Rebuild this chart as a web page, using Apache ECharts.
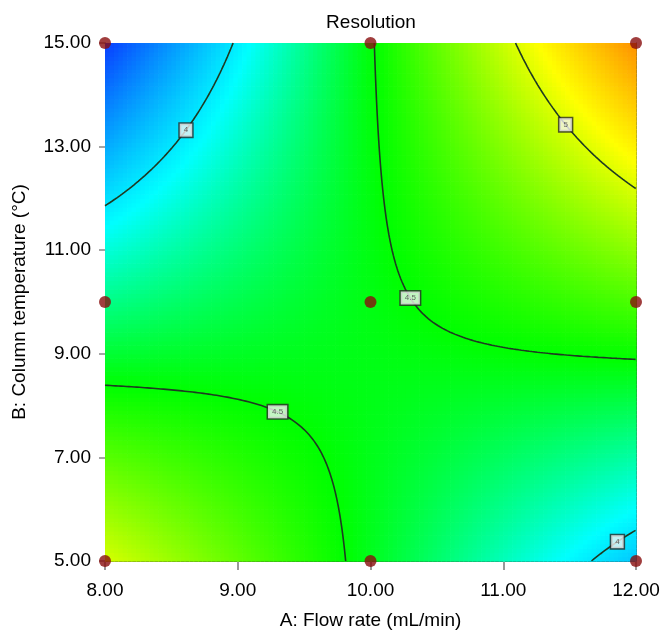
<!DOCTYPE html>
<html><head><meta charset="utf-8">
<script src="https://cdn.jsdelivr.net/npm/echarts@6/dist/echarts.min.js"></script>
<style>html,body{margin:0;padding:0;background:#fff}#c{width:661px;height:633px}</style>
</head><body><div id="c"></div>
<script>
// ---- data ----
const chartTitle = 'Resolution';
const xName = 'A: Flow rate (mL/min)';
const yName = 'B: Column temperature (°C)';
const xTicks = [8, 9, 10, 11, 12];
const yTicks = [5, 7, 9, 11, 13, 15];
// design points (A, B)
const designA = [8, 10, 12, 8, 10, 12, 8, 10, 12];
const designB = [15, 15, 15, 10, 10, 10, 5, 5, 5];
// response surface estimated from the colours / contours, coded units: [const, A, B, AB]
const coef = [4.468, 0.200, 0.0185, 0.74];
const contourLevels = [4, 4.5, 5];
// contour label anchors: [level, A]
const labelAt = [[4, 8.61], [4, 11.86], [4.5, 10.30], [4.5, 9.30], [5, 11.47]];
const colorStops = ['#0a2cff', '#00ffff', '#00ff00', '#ffff00', '#ff6a00'];
const colorValues = [3.5, 4.06, 4.5, 5.08, 5.55];

// ---- build ----
const [c0, ca, cb, cab] = coef;
const toX = A => (A - 10) / 2, toY = B => (B - 10) / 5;
const fromX = x => 10 + 2 * x, fromY = y => 10 + 5 * y;
const resp = (A, B) => { const x = toX(A), y = toY(B); return c0 + ca * x + cb * y + cab * x * y; };

// piecewise colour position so that stops sit at colorValues
function colorPos(v) {
  const n = colorValues.length - 1;
  if (v <= colorValues[0]) return 0;
  for (let i = 0; i < n; i++) {
    if (v <= colorValues[i + 1]) return (i + (v - colorValues[i]) / (colorValues[i + 1] - colorValues[i])) / n;
  }
  return 1;
}

const N = 120;
const dA = 4 / N, dB = 10 / N;
const heat = [];
for (let i = 0; i < N; i++) for (let j = 0; j < N; j++) {
  const A = 8 + (i + 0.5) * dA, B = 5 + (j + 0.5) * dB;
  const v = resp(A, B);
  heat.push([A, B, v, colorPos(v)]);
}

function contour(L) {
  const x0 = -cb / cab;
  const pts = [];
  const M = 1200;
  for (let k = 0; k <= M; k++) {
    const x = -1 + 2 * k / M, den = cb + cab * x;
    if (Math.abs(den) < 1e-9) continue;
    const y = (L - c0 - ca * x) / den;
    if (Math.abs(y) <= 1) pts.push([x, y]);
  }
  for (let k = 0; k <= M; k++) {
    const y = -1 + 2 * k / M, den = ca + cab * y;
    if (Math.abs(den) < 1e-9) continue;
    const x = (L - c0 - cb * y) / den;
    if (Math.abs(x) <= 1) pts.push([x, y]);
  }
  const left = pts.filter(p => p[0] < x0).sort((a, b) => a[0] - b[0]);
  const right = pts.filter(p => p[0] >= x0).sort((a, b) => a[0] - b[0]);
  return [left, right].filter(b => b.length > 1).map(b => b.map(p => [fromX(p[0]), fromY(p[1])]));
}

const series = [];
series.push({
  type: 'custom', coordinateSystem: 'cartesian2d', data: heat, progressive: 0,
  encode: { x: 0, y: 1 }, silent: true, z: 1,
  renderItem(params, api) {
    const A = api.value(0), B = api.value(1);
    const p0 = api.coord([A - dA / 2, B + dB / 2]);
    const p1 = api.coord([A + dA / 2, B - dB / 2]);
    return { type: 'rect', shape: { x: p0[0], y: p0[1], width: p1[0] - p0[0] + 0.7, height: p1[1] - p0[1] + 0.7 },
      style: { fill: api.visual('color') } };
  }
});
contourLevels.forEach(L => {
  contour(L).forEach(branch => {
    series.push({ type: 'line', data: branch, showSymbol: false, silent: true, z: 3, animation: false,
      lineStyle: { color: '#1e3a22', width: 1.6 } });
  });
});
series.push({
  type: 'scatter', z: 5, silent: true, symbolSize: 1, itemStyle: { color: 'transparent' },
  data: labelAt.map(([L, A]) => {
    const x = toX(A); const y = (L - c0 - ca * x) / (cb + cab * x);
    return { value: [A, fromY(y)], name: String(L) };
  }),
  label: { show: true, position: 'inside', formatter: p => p.name, fontSize: 8, color: '#444',
    backgroundColor: '#f2f2f2', borderColor: '#2a2a2a', borderWidth: 1.5, padding: [3, 4, 2, 4],
    fontFamily: 'Liberation Sans, Arial, sans-serif' }
});
series.push({
  type: 'scatter', z: 6, silent: true, clip: false, symbolSize: 12,
  itemStyle: { color: '#880e0e' },
  data: designA.map((a, i) => [a, designB[i]])
});

const font = 'Liberation Sans, Arial, sans-serif';
const option = {
  animation: false,
  textStyle: { fontFamily: font },
  grid: { left: 105, right: 25, top: 43, bottom: 72, containLabel: false, outerBoundsMode: 'none' },
  graphic: [{ type: 'text', x: 371, y: 13, style: { text: chartTitle, fontSize: 19, fill: '#000', fontFamily: font, align: 'center', textAlign: 'center' } }],
  visualMap: { show: false, seriesIndex: 0, dimension: 3, min: 0, max: 1, inRange: { color: colorStops } },
  xAxis: [{
    type: 'value', min: xTicks[0], max: xTicks[xTicks.length - 1], interval: 1,
    name: xName, nameLocation: 'middle', nameGap: 50, nameTextStyle: { fontSize: 19, color: '#000', fontFamily: font },
    axisLine: { lineStyle: { color: '#3a3a3a', width: 1 } },
    axisTick: { show: true, length: 9, lineStyle: { color: '#999', width: 2 } },
    axisLabel: { formatter: v => v.toFixed(2), fontSize: 19, color: '#000', margin: 20, fontFamily: font },
    splitLine: { show: false }
  }, {
    type: 'value', position: 'top', min: 8, max: 12, axisLine: { show: true, lineStyle: { color: '#3a3a3a' } },
    axisTick: { show: false }, axisLabel: { show: false }, splitLine: { show: false }
  }],
  yAxis: [{
    type: 'value', min: yTicks[0], max: yTicks[yTicks.length - 1], interval: 2,
    name: yName, nameLocation: 'middle', nameGap: 76, nameRotate: 90, nameTextStyle: { fontSize: 19, color: '#000', fontFamily: font },
    axisLine: { lineStyle: { color: '#3a3a3a', width: 1 } },
    axisTick: { show: true, length: 6, lineStyle: { color: '#888', width: 1.5 } },
    axisLabel: { formatter: v => v.toFixed(2), fontSize: 19, color: '#000', margin: 14, fontFamily: font },
    splitLine: { show: false }
  }, {
    type: 'value', position: 'right', min: 5, max: 15, axisLine: { show: true, lineStyle: { color: '#3a3a3a' } },
    axisTick: { show: false }, axisLabel: { show: false }, splitLine: { show: false }
  }],
  series
};
const chart = echarts.init(document.getElementById('c'), null, { renderer: 'canvas' });
chart.setOption(option);
</script></body></html>
